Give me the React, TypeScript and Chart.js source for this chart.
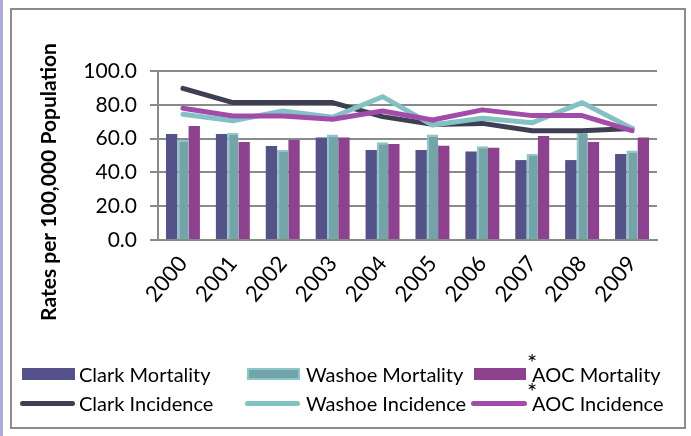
import React, { useEffect, useRef } from "react";
import { Chart, registerables } from "chart.js";

Chart.register(...registerables);

const years = ["2000", "2001", "2002", "2003", "2004", "2005", "2006", "2007", "2008", "2009"];
const clarkMortality = [62.7, 62.7, 55.6, 60.6, 53.3, 53.3, 52.3, 47.3, 47.3, 50.9];
const washoeMortality = [59.2, 63.5, 53.3, 62.5, 57.8, 62.5, 55.4, 50.9, 64.0, 52.9];
const aocMortality = [67.5, 58.0, 59.2, 60.6, 56.8, 55.8, 54.6, 61.5, 58.0, 60.6];
const clarkIncidence = [89.7, 81.3, 81.3, 81.3, 73.0, 68.4, 69.0, 64.7, 64.7, 66.0];
const washoeIncidence = [74.4, 70.6, 76.3, 72.6, 84.8, 68.0, 72.0, 69.4, 81.3, 66.0];
const aocIncidence = [78.0, 73.4, 73.4, 71.4, 76.3, 71.0, 77.0, 73.6, 73.6, 64.7];
const yTicks = [0, 20, 40, 60, 80, 100];
const yTitle = "Rates per 100,000 Population";

const FONT = "Lato, 'Liberation Sans', sans-serif";

const C_CLARK_BAR = "#55528A";
const C_WASHOE_BAR = "#72A4A8";
const C_WASHOE_BAR_EDGE = "#8AC6CA";
const C_AOC_BAR = "#8E418E";
const C_CLARK_LINE = "#3F3F53";
const C_WASHOE_LINE = "#84C1C5";
const C_AOC_LINE = "#A24CAA";

const legendItems = [
  { label: "Clark Mortality", kind: "bar", color: C_CLARK_BAR, star: false, x: 22, w: 53, tx: 79, row: 0 },
  { label: "Washoe Mortality", kind: "bar", color: C_WASHOE_BAR, edge: C_WASHOE_BAR_EDGE, star: false, x: 247, w: 53, tx: 306, row: 0 },
  { label: "AOC Mortality", kind: "bar", color: C_AOC_BAR, star: true, x: 474, w: 52, tx: 532, row: 0 },
  { label: "Clark Incidence", kind: "line", color: C_CLARK_LINE, star: false, x: 20, w: 55, tx: 79, row: 1 },
  { label: "Washoe Incidence", kind: "line", color: C_WASHOE_LINE, star: false, x: 245, w: 55, tx: 306, row: 1 },
  { label: "AOC Incidence", kind: "line", color: C_AOC_LINE, star: true, x: 471, w: 56, tx: 532, row: 1 },
];

const yTitlePlugin = {
  id: "yTitlePlugin",
  afterDraw(chart: any) {
    const ctx = chart.ctx;
    ctx.save();
    ctx.translate(49, 182);
    ctx.rotate(-Math.PI / 2);
    ctx.font = "bold 21px " + FONT;
    ctx.fillStyle = "#000";
    ctx.textAlign = "center";
    ctx.textBaseline = "middle";
    ctx.fillText(yTitle, 0, 0);
    ctx.restore();
  },
};

export default function App() {
  const ref = useRef<HTMLCanvasElement>(null);

  useEffect(() => {
    document.body.style.margin = "0";
    const ctx = ref.current!.getContext("2d")!;
    const chart = new Chart(ctx, {
      type: "bar",
      data: {
        labels: years,
        datasets: [
          { type: "line", label: "Clark Incidence", data: clarkIncidence, borderColor: C_CLARK_LINE, backgroundColor: C_CLARK_LINE, borderWidth: 5, pointRadius: 0, borderCapStyle: "round", borderJoinStyle: "round", tension: 0, order: 2 } as any,
          { type: "line", label: "Washoe Incidence", data: washoeIncidence, borderColor: C_WASHOE_LINE, backgroundColor: C_WASHOE_LINE, borderWidth: 5, pointRadius: 0, borderCapStyle: "round", borderJoinStyle: "round", tension: 0, order: 1 } as any,
          { type: "line", label: "AOC Incidence", data: aocIncidence, borderColor: C_AOC_LINE, backgroundColor: C_AOC_LINE, borderWidth: 5, pointRadius: 0, borderCapStyle: "round", borderJoinStyle: "round", tension: 0, order: 0 } as any,
          { type: "bar", label: "Clark Mortality", data: clarkMortality, backgroundColor: C_CLARK_BAR, borderWidth: 0, order: 3 },
          { type: "bar", label: "Washoe Mortality", data: washoeMortality, backgroundColor: C_WASHOE_BAR, borderColor: C_WASHOE_BAR_EDGE, borderWidth: { top: 2, left: 2, right: 0, bottom: 0 }, borderSkipped: false, order: 4 } as any,
          { type: "bar", label: "AOC Mortality", data: aocMortality, backgroundColor: C_AOC_BAR, borderWidth: 0, order: 5 },
        ],
      },
      options: {
        animation: false,
        responsive: false,
        maintainAspectRatio: false,
        datasets: { bar: { categoryPercentage: 0.68, barPercentage: 1.0 } },
        layout: { padding: { top: 71, right: 34, left: 0, bottom: 96 } },
        plugins: { legend: { display: false }, tooltip: { enabled: false } },
        scales: {
          x: {
            grid: { display: false },
            border: { display: true, color: "#8a8a8a", width: 2 },
            ticks: {
              color: "#000",
              font: { family: FONT, size: 22 },
              maxRotation: 50,
              minRotation: 50,
              padding: 3,
            },
            afterFit(scale: any) {
              scale.height = 100;
            },
          },
          y: {
            min: 0,
            max: 100,
            afterBuildTicks(scale: any) {
              scale.ticks = yTicks.map((v) => ({ value: v }));
            },
            grid: { color: "#8a8a8a", lineWidth: 2, tickLength: 8, drawTicks: true },
            border: { display: true, color: "#8a8a8a", width: 2 },
            ticks: {
              color: "#000",
              font: { family: FONT, size: 21 },
              padding: 13,
              callback: (v: any) => Number(v).toFixed(1),
            },
            afterFit(scale: any) {
              scale.width = 158;
            },
          },
        },
      },
      plugins: [yTitlePlugin],
    });
    return () => chart.destroy();
  }, []);

  return (
    <div style={{ position: "relative", width: 691, height: 436, background: "#fff", overflow: "hidden", fontFamily: FONT }}>
      <div style={{ position: "absolute", left: 0, top: 0, width: 3, height: 436, background: "#AAAADB" }} />
      <div style={{ position: "absolute", left: 10, top: 8, width: 672, height: 417, border: "2px solid #8c8c8c" }} />
      <canvas ref={ref} width={691} height={436} style={{ position: "absolute", left: 0, top: 0, width: 691, height: 436 }} />
      {legendItems.map((it) => {
        const cy = it.row === 0 ? 374 : 403;
        return (
          <React.Fragment key={it.label}>
            {it.kind === "bar" ? (
              <div
                style={{
                  position: "absolute",
                  left: it.x,
                  top: cy - 6,
                  width: it.w,
                  height: 12,
                  background: it.color,
                  boxSizing: "border-box",
                  border: (it as any).edge ? `2px solid ${(it as any).edge}` : "none",
                }}
              />
            ) : (
              <div style={{ position: "absolute", left: it.x, top: cy - 2.5, width: it.w, height: 5, background: it.color, borderRadius: 3 }} />
            )}
            {it.star && (
              <span style={{ position: "absolute", left: it.tx - 5, top: cy - 24, fontSize: 24, lineHeight: "24px", color: "#000" }}>*</span>
            )}
            <span style={{ position: "absolute", left: it.tx, top: cy - 12, fontSize: 20, lineHeight: "24px", color: "#000", whiteSpace: "nowrap" }}>
              {it.label}
            </span>
          </React.Fragment>
        );
      })}
    </div>
  );
}
